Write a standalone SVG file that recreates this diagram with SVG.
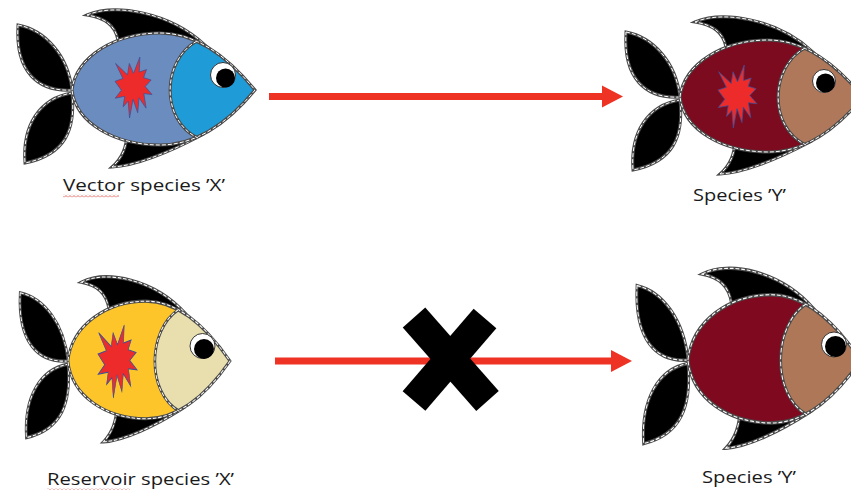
<svg xmlns="http://www.w3.org/2000/svg" xmlns:xlink="http://www.w3.org/1999/xlink" width="851" height="490" viewBox="0 0 851 490">
  <style>
    .fin { fill: #000; }
    .edge { fill: none; stroke: #4a4a4a; stroke-width: 3; vector-effect: non-scaling-stroke; }
    .dash { fill: none; stroke: #fff; stroke-width: 1; stroke-dasharray: 4 2; vector-effect: non-scaling-stroke; }
    .burst { stroke: #3a4f9a; stroke-width: 1.5; fill: #ee2b2b; vector-effect: non-scaling-stroke; }
    .eye-white { fill: #fff; stroke: #333; stroke-width: 1; }
    .pupil { fill: #000; }
    .label { font-family: "Open Sans", "Noto Sans", "Liberation Sans", sans-serif; font-size: 17px; fill: #1a1a1a; }
    .arrow { stroke: #ee3224; stroke-width: 7; fill: none; }
  </style>
  <defs>
    <!-- shared fish parts, drawn in the coordinates of the top-left fish -->
    <path id="tail-up" d="M18,25 C45,30 68,55 72,90 C38,92 15,72 18,25 Z"/>
    <path id="tail-down" d="M72,93 C76,130 65,155 25,163 C22,125 40,98 72,93 Z"/>
    <path id="fin-top" d="M87,15 C115,3 170,12 205,45 L150,52 L118,40 C115,25 105,18 87,15 Z"/>
    <path id="fin-bottom" d="M112,167 C135,166 170,152 200,136 L127,132 C127,150 120,160 112,167 Z"/>
    <path id="body" d="M72,90 C76,56 116,33 160,33 C200,33 232,62 255,90 C232,118 200,145 160,145 C116,145 76,124 72,90 Z"/>
    <path id="head" d="M197,0 L197,41 C162,60 160,120 198,138 L198,200 L300,200 L300,0 Z"/>
    <path id="divider" d="M197,41 C162,60 160,120 198,138"/>
    <clipPath id="body-clip"><use xlink:href="#body"/></clipPath>
    <g id="fins">
      <use xlink:href="#tail-up" class="fin"/><use xlink:href="#tail-up" class="edge"/><use xlink:href="#tail-up" class="dash"/>
      <use xlink:href="#tail-down" class="fin"/><use xlink:href="#tail-down" class="edge"/><use xlink:href="#tail-down" class="dash"/>
      <use xlink:href="#fin-top" class="fin"/><use xlink:href="#fin-top" class="edge"/><use xlink:href="#fin-top" class="dash"/>
      <use xlink:href="#fin-bottom" class="fin"/><use xlink:href="#fin-bottom" class="edge"/><use xlink:href="#fin-bottom" class="dash"/>
    </g>
    <g id="outline">
      <use xlink:href="#body" class="edge"/><use xlink:href="#body" class="dash"/>
      <use xlink:href="#divider" class="edge"/><use xlink:href="#divider" class="dash"/>
    </g>
    <!-- explosion star in a 100x100 box -->
    <path id="star" d="M50,26.85 L67.23,0 L65.53,24.65 L85.09,20.64 L77.31,33.86 L97.67,37.67 L81.51,48.5 L100,61.53 L77.95,59.92 L84,83.82 L64.91,66.93 L61.33,91.38 L48.76,69.14 L39.28,100 L35.72,72.35 L22.05,81.56 L26.24,64.52 L0.63,67.53 L17.23,54.51 L0,39.88 L21.42,35.26 L1.71,10.63 L33.85,29.26 L38.67,10.63 Z"/>
    <marker id="head-mark" markerUnits="userSpaceOnUse" markerWidth="22" markerHeight="24" refX="0" refY="12" orient="auto">
      <path d="M0,1 L21,12 L0,23 Z" fill="#ee3224"/>
    </marker>
    <pattern id="wavy" patternUnits="userSpaceOnUse" width="4" height="3">
      <polyline points="0,2.5 2,0.5 4,2.5" fill="none" stroke="#e0443c" stroke-width="0.8"/>
    </pattern>
  </defs>

  <!-- vector species X (infected) -->
  <g id="fish-vector">
    <use xlink:href="#fins"/>
    <use xlink:href="#body" fill="#6a8cbf"/>
    <use xlink:href="#head" fill="#1f9cd8" clip-path="url(#body-clip)"/>
    <use xlink:href="#outline"/>
    <use xlink:href="#star" class="burst" transform="translate(115,57) scale(0.37,0.61)"/>
    <circle class="eye-white" cx="223" cy="75" r="12.5"/>
    <circle class="pupil" cx="225.5" cy="78" r="9.5"/>
  </g>

  <!-- species Y, infected -->
  <g id="fish-y-top">
    <g transform="translate(608,7)">
      <use xlink:href="#fins"/>
      <use xlink:href="#body" fill="#7d0b1f"/>
      <use xlink:href="#head" fill="#b0785a" clip-path="url(#body-clip)"/>
      <use xlink:href="#outline"/>
    </g>
    <use xlink:href="#star" class="burst" transform="translate(718,65) scale(0.39,0.63)"/>
    <circle class="eye-white" cx="824" cy="81" r="11.5"/>
    <circle class="pupil" cx="825.5" cy="83" r="9.5"/>
  </g>

  <!-- reservoir species X -->
  <g id="fish-reservoir">
    <g transform="translate(68,361) scale(0.885,1.05) translate(-72,-90)">
      <use xlink:href="#fins"/>
      <use xlink:href="#body" fill="#fdc52a"/>
      <use xlink:href="#head" fill="#e9dfae" clip-path="url(#body-clip)"/>
      <use xlink:href="#outline"/>
    </g>
    <use xlink:href="#star" class="burst" transform="translate(98,325) scale(0.39,0.73)"/>
    <circle class="eye-white" cx="202.5" cy="346" r="12.5"/>
    <circle class="pupil" cx="204" cy="349" r="10"/>
  </g>

  <!-- species Y, not infected -->
  <g id="fish-y-bottom">
    <g transform="translate(688,360) scale(0.944,1.145) translate(-72,-90)">
      <use xlink:href="#fins"/>
      <use xlink:href="#body" fill="#7f0a1f"/>
      <use xlink:href="#head" fill="#ae7757" clip-path="url(#body-clip)"/>
      <use xlink:href="#outline"/>
    </g>
    <circle class="eye-white" cx="834" cy="344.5" r="12.5"/>
    <circle class="pupil" cx="835.5" cy="346.5" r="10.5"/>
  </g>

  <g id="connectors">
    <line class="arrow" x1="269" y1="96.5" x2="602" y2="96.5" marker-end="url(#head-mark)"/>
    <line class="arrow" x1="275" y1="361" x2="611" y2="361" marker-end="url(#head-mark)"/>
    <!-- blocked transmission -->
    <g id="cross" stroke="#000" stroke-width="30">
      <line x1="414" y1="317.5" x2="487.5" y2="401"/>
      <line x1="485" y1="318.5" x2="414" y2="401"/>
    </g>
  </g>

  <g id="labels">
    <text class="label" x="63" y="191" textLength="162" lengthAdjust="spacingAndGlyphs">Vector species ’X’</text>
    <rect x="63" y="194.5" width="56" height="3" fill="url(#wavy)"/>
    <text class="label" x="693" y="201" textLength="93" lengthAdjust="spacingAndGlyphs">Species ’Y’</text>
    <text class="label" x="47" y="485" textLength="187" lengthAdjust="spacingAndGlyphs">Reservoir species ’X’</text>
    <rect x="47" y="488" width="83" height="3" fill="url(#wavy)"/>
    <text class="label" x="702" y="483" textLength="94" lengthAdjust="spacingAndGlyphs">Species ’Y’</text>
  </g>
</svg>
